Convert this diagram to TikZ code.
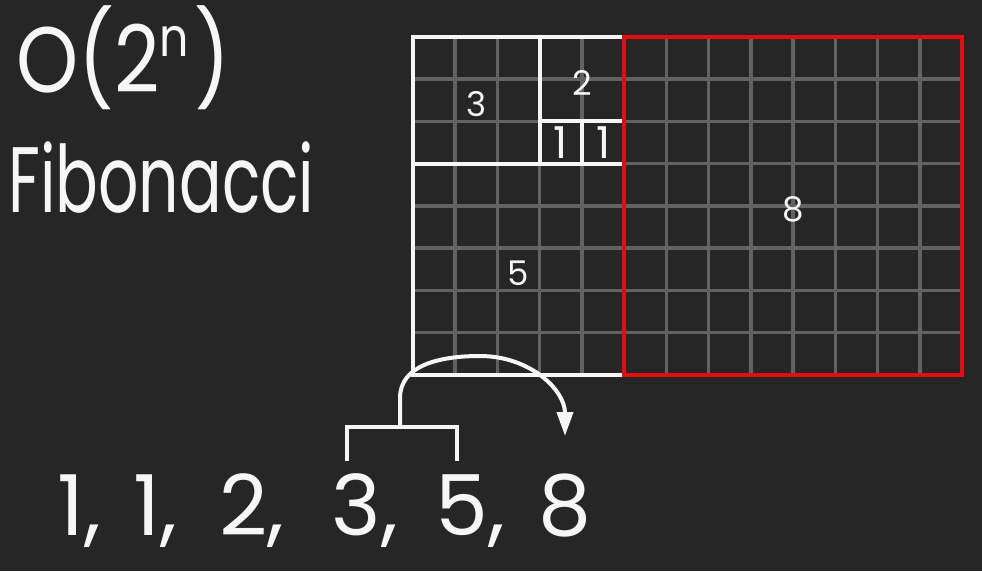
\documentclass[tikz,border=0pt]{standalone}
\usepackage{fontspec}
\setmainfont{Poppins}
\usetikzlibrary{arrows.meta}
\definecolor{board}{RGB}{38,38,38}
\definecolor{gridgray}{RGB}{98,98,98}
\definecolor{chalk}{RGB}{246,246,246}
\definecolor{redsq}{RGB}{228,12,12}
\begin{document}
\begin{tikzpicture}[x=1pt,y=-1pt,
  sq/.style={draw=chalk, line width=4pt, inner sep=0pt, text=chalk,
    font=\fontsize{34}{34}\selectfont, text height=32pt, text depth=0pt},
  redbox/.style={sq, draw=redsq},
  gline/.style={draw=gridgray, line width=3.5pt},
  big/.style={text=chalk, inner sep=0pt, font=\fontsize{93}{93}\selectfont},
  num/.style={text=chalk, inner sep=0pt, anchor=base, font=\fontsize{84}{84}\selectfont},
  chalkline/.style={draw=chalk, line width=4pt}]
\fill[board] (0,0) rectangle (982,571);
% grid
\foreach \i in {0,...,13}{\draw[gline] ({413+\i*42.24},37) -- ({413+\i*42.24},374.92);}
\foreach \j in {0,...,8}{\draw[gline] (413,{37+\j*42.24}) -- (962.12,{37+\j*42.24});}
% squares
\node[sq, minimum size=126.72pt] (s3) at (476.36,100.36) {3};
\node[sq, minimum size=84.48pt] (s2) at (581.96,79.24) {2};
\node[sq, minimum size=42.24pt, font=\fontsize{44}{44}\selectfont, text height=31pt] (s1a) at (560.84,142.6) {1};
\node[sq, minimum size=42.24pt, font=\fontsize{44}{44}\selectfont, text height=31pt] (s1b) at (603.08,142.6) {1};
\node[sq, minimum size=211.2pt] (s5) at (518.6,269.32) {5};
\node[redbox, minimum size=337.92pt] (s8) at (793.16,205.96) {8};
% titles
\node[big, anchor=base west] (title) at (16,92) {\scalebox{0.85}[1]{O(2\raisebox{36pt}{\fontsize{54}{54}\selectfont n}\hspace{6pt})}};
\node[big, anchor=base west] (fib) at (8,212) {\scalebox{0.68}[1]{Fibonacci}};
% sequence
\node[num] (n1) at (79,535) {1,};
\node[num] (n2) at (155,535) {1,};
\node[num] (n3) at (252,535) {2,};
\node[num] (n4) at (365,535) {3,};
\node[num] (n5) at (470,535) {5,};
\node[num] (n6) at (565,535) {8};
% bracket and arrow
\coordinate (bl) at (347,461);
\coordinate (br) at (457,461);
\coordinate (bt) at (400,427);
\coordinate (tip) at (565,436);
\draw[chalkline] (bl) -- (347,427) -- (457,427) -- (br);
\draw[chalkline, -{Triangle[length=24pt,width=16pt]}] (bt) -- (400,398)
  .. controls (400,365) and (440,356) .. (480,356)
  .. controls (530,356) and (565,390) .. (tip);
\end{tikzpicture}
\end{document}
